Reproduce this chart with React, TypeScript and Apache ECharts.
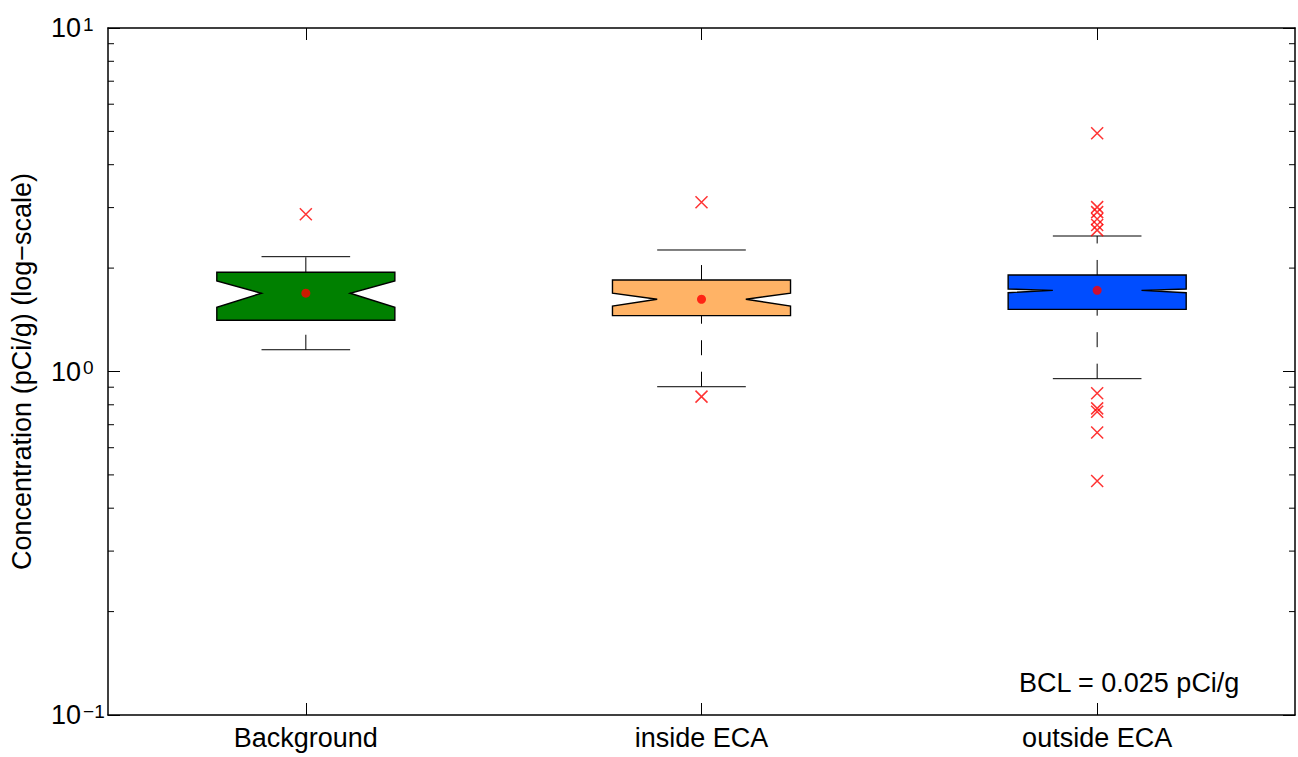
import React, { useEffect, useRef } from "react";
import * as echarts from "echarts";

// ---- data ----
const categories = ["Background", "inside ECA", "outside ECA"];
const boxColors = ["#008000", "#FFB366", "#004DFF"];
const q1Values = [1.41, 1.454, 1.517];
const notchLowValues = [1.538, 1.551, 1.696];
const medianValues = [1.69, 1.623, 1.723];
const notchHighValues = [1.834, 1.69, 1.739];
const q3Values = [1.945, 1.846, 1.91];
const whiskerLowValues = [1.157, 0.903, 0.953];
const whiskerHighValues = [2.159, 2.258, 2.48];
const meanValues = [1.69, 1.623, 1.723];
const outlierCategory = [0, 1, 1, 2, 2, 2, 2, 2, 2, 2, 2, 2, 2, 2];
const outlierValues = [2.87, 3.11, 0.845, 4.94, 3.01, 2.91, 2.78, 2.67, 2.58, 0.864, 0.781, 0.764, 0.664, 0.48];
const minorTickValues = [0.2, 0.3, 0.4, 0.5, 0.6, 0.7, 0.8, 0.9, 2, 3, 4, 5, 6, 7, 8, 9];
const yMin = 0.1;
const yMax = 10;
const yAxisName = "Concentration (pCi/g) (log\u2212scale)";
const annotation = "BCL = 0.025 pCi/g";

const FONT = "'Liberation Sans', Arial, Helvetica, sans-serif";
const FS = 27;

export default function App() {
  const ref = useRef<HTMLDivElement>(null);

  useEffect(() => {
    document.body.style.margin = "0";
    if (!ref.current) return;
    const chart = echarts.init(ref.current, undefined, { renderer: "svg" });

    const boxData = categories.map((_, i) => [
      i,
      q1Values[i],
      notchLowValues[i],
      medianValues[i],
      notchHighValues[i],
      q3Values[i],
      whiskerLowValues[i],
      whiskerHighValues[i],
    ]);

    const axisLineStyle = { color: "#000", width: 1.5 };
    const tickStyle = { color: "#000", width: 1 };

    const supLabel = (v: number) => {
      const e = Math.round(Math.log10(v));
      const s = e < 0 ? "\u2212" + String(-e) : String(e);
      return "{b|10}{s|" + s + "}";
    };
    const rich = {
      b: { fontSize: FS, fontFamily: FONT, color: "#000", padding: [10, 0, 10, 0], lineHeight: FS },
      s: { fontSize: 19, fontFamily: FONT, color: "#000", verticalAlign: "top", lineHeight: 19, padding: [0, 0, 0, 2] },
    };

    const option: any = {
      animation: false,
      backgroundColor: "#fff",
      grid: { left: 106, right: 3, top: 28, bottom: 42, containLabel: false },
      xAxis: [
        {
          type: "category",
          data: categories,
          position: "bottom",
          boundaryGap: true,
          axisLine: { show: true, onZero: false, lineStyle: axisLineStyle },
          axisTick: { show: true, inside: true, alignWithLabel: true, length: 12, lineStyle: tickStyle },
          axisLabel: { fontSize: FS, color: "#000", margin: 9, fontFamily: FONT },
          splitLine: { show: false },
        },
        {
          type: "category",
          data: categories,
          position: "top",
          boundaryGap: true,
          axisLine: { show: true, onZero: false, lineStyle: axisLineStyle },
          axisTick: { show: true, inside: true, alignWithLabel: true, length: 12, lineStyle: tickStyle },
          axisLabel: { show: false },
          splitLine: { show: false },
        },
      ],
      yAxis: [
        {
          type: "log",
          logBase: 10,
          min: yMin,
          max: yMax,
          splitNumber: 2,
          position: "left",
          axisLine: { show: true, lineStyle: axisLineStyle },
          axisTick: { show: true, inside: true, length: 12, lineStyle: tickStyle },
          splitLine: { show: false },
          axisLabel: {
            formatter: supLabel,
            rich,
            align: "left",
            margin: 57,
          },
          name: yAxisName,
          nameLocation: "middle",
          nameGap: 73,
          nameTextStyle: { fontSize: FS, color: "#000", fontFamily: FONT },
        },
        {
          type: "log",
          logBase: 10,
          min: yMin,
          max: yMax,
          splitNumber: 2,
          position: "right",
          axisLine: { show: true, lineStyle: axisLineStyle },
          axisTick: { show: true, inside: true, length: 12, lineStyle: tickStyle },
          splitLine: { show: false },
          axisLabel: { show: false },
        },
      ],
      series: [
        {
          type: "custom",
          name: "minorTicks",
          xAxisIndex: 0,
          yAxisIndex: 0,
          silent: true,
          data: minorTickValues.map((v) => [0, v]),
          renderItem: (params: any, api: any) => {
            const cs = params.coordSys;
            const y = api.coord([0, api.value(1)])[1];
            const l = cs.x;
            const r = cs.x + cs.width;
            return {
              type: "group",
              children: [
                { type: "line", shape: { x1: l, y1: y, x2: l + 6, y2: y }, style: { stroke: "#000", lineWidth: 1 } },
                { type: "line", shape: { x1: r - 6, y1: y, x2: r, y2: y }, style: { stroke: "#000", lineWidth: 1 } },
              ],
            };
          },
        },
        {
          type: "custom",
          name: "boxes",
          xAxisIndex: 0,
          yAxisIndex: 0,
          data: boxData,
          z: 3,
          renderItem: (params: any, api: any) => {
            const i = api.value(0);
            const cs = params.coordSys;
            const band = cs.width / categories.length;
            const cx = api.coord([i, api.value(3)])[0];
            const yy = (d: number) => api.coord([i, api.value(d)])[1];
            const yQ1 = yy(1), yNL = yy(2), yMed = yy(3), yNH = yy(4), yQ3 = yy(5), yWL = yy(6), yWH = yy(7);
            const hw = band * 0.225;
            const nw = band * 0.112;
            const dash = [15, 16.5];
            return {
              type: "group",
              children: [
                { type: "line", shape: { x1: cx, y1: yQ3, x2: cx, y2: yWH }, style: { stroke: "#000", lineWidth: 1, lineDash: dash } },
                { type: "line", shape: { x1: cx, y1: yWL, x2: cx, y2: yQ1 }, style: { stroke: "#000", lineWidth: 1, lineDash: dash } },
                { type: "line", shape: { x1: cx - nw, y1: yWH, x2: cx + nw, y2: yWH }, style: { stroke: "#000", lineWidth: 1 } },
                { type: "line", shape: { x1: cx - nw, y1: yWL, x2: cx + nw, y2: yWL }, style: { stroke: "#000", lineWidth: 1 } },
                {
                  type: "polygon",
                  shape: {
                    points: [
                      [cx - hw, yQ1], [cx - hw, yNL], [cx - nw, yMed], [cx - hw, yNH], [cx - hw, yQ3],
                      [cx + hw, yQ3], [cx + hw, yNH], [cx + nw, yMed], [cx + hw, yNL], [cx + hw, yQ1],
                    ],
                  },
                  style: { fill: boxColors[i], stroke: "#000", lineWidth: 1.4 },
                },
              ],
            };
          },
        },
        {
          type: "scatter",
          name: "outliers",
          xAxisIndex: 0,
          yAxisIndex: 0,
          z: 4,
          symbol: "path://M0,0L10,10M10,0L0,10",
          symbolSize: 12,
          itemStyle: { color: "none", borderColor: "#ff0000", borderWidth: 1.5 },
          data: outlierValues.map((v, k) => [outlierCategory[k], v]),
        },
        {
          type: "scatter",
          name: "mean",
          xAxisIndex: 0,
          yAxisIndex: 0,
          z: 5,
          symbol: "circle",
          symbolSize: 9,
          itemStyle: { color: "#ff0000" },
          data: meanValues.map((v, i) => [i, v]),
        },
      ],
      graphic: [
        {
          type: "text",
          left: 1019,
          top: 669,
          style: { text: annotation, fontSize: FS, fontFamily: FONT, fill: "#000" },
        },
      ],
    };

    chart.setOption(option);
    return () => chart.dispose();
  }, []);

  return <div ref={ref} style={{ width: 1298, height: 757 }} />;
}
